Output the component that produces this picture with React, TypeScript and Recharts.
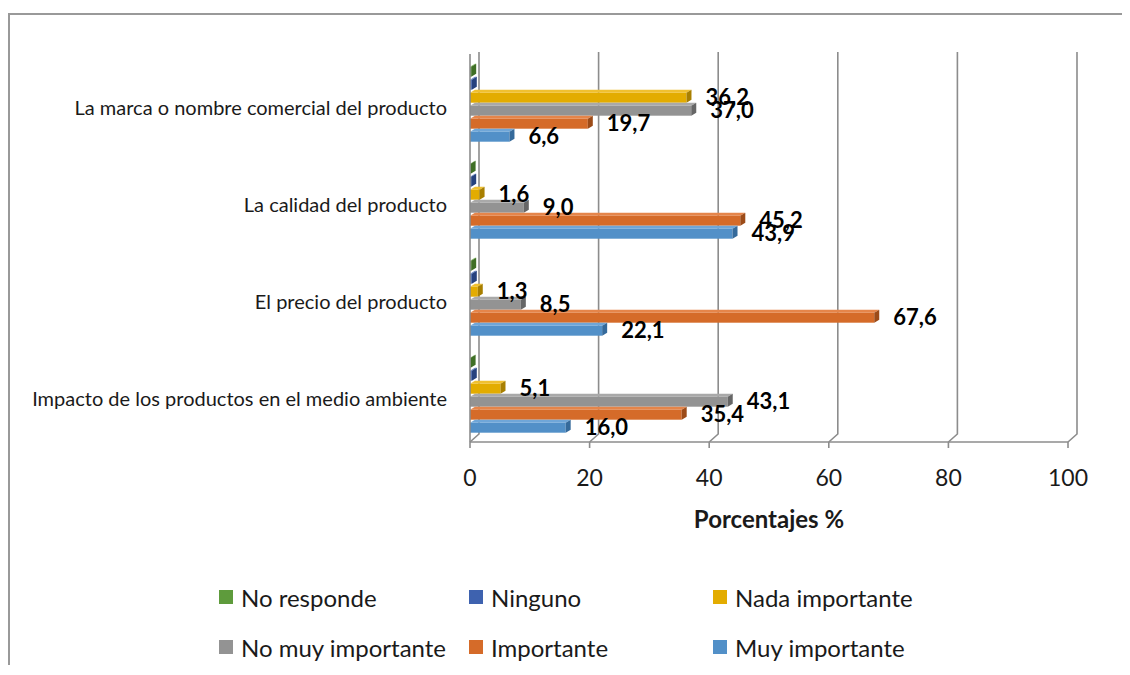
import React from 'react'
import { BarChart, Bar, XAxis, YAxis, CartesianGrid, LabelList, Label } from 'recharts'

const categories = [
  'La marca o nombre comercial del producto',
  'La calidad del producto',
  'El precio del producto',
  'Impacto de los productos en el medio ambiente',
]
const noResponde = [0.2, 0.1, 0.2, 0.1]
const ninguno = [0.3, 0.2, 0.3, 0.3]
const nadaImportante = [36.2, 1.6, 1.3, 5.1]
const noMuyImportante = [37.0, 9.0, 8.5, 43.1]
const importante = [19.7, 45.2, 67.6, 35.4]
const muyImportante = [6.6, 43.9, 22.1, 16.0]
const xTicks = [0, 20, 40, 60, 80, 100]

const FONT = 'Lato, "Open Sans", sans-serif'

const series = [
  { key: 'noResponde', name: 'No responde', values: noResponde, color: '#5E9B3C', side: '#3f6f25', top: '#77b352', labels: false },
  { key: 'ninguno', name: 'Ninguno', values: ninguno, color: '#3E62AF', side: '#26427e', top: '#5a7cc4', labels: false },
  { key: 'nada', name: 'Nada importante', values: nadaImportante, color: '#E3AC00', side: '#a87f00', top: '#f0c030', labels: true },
  { key: 'noMuy', name: 'No muy importante', values: noMuyImportante, color: '#939393', side: '#666666', top: '#a9a9a9', labels: true },
  { key: 'imp', name: 'Importante', values: importante, color: '#D56B29', side: '#9c4b18', top: '#e5854a', labels: true },
  { key: 'muy', name: 'Muy importante', values: muyImportante, color: '#5290C8', side: '#356a9b', top: '#6fa6d8', labels: true },
]

const data = categories.map((category, i) => {
  const row: Record<string, any> = { category }
  series.forEach((s) => {
    row[s.key] = s.values[i]
  })
  return row
})

const DX = 5
const DY = 3

function Bar3D(props: any) {
  const { x, y, width, height, fill, side, top } = props
  if (height == null || width == null) return null
  const w = Math.max(width, 0)
  return (
    <g>
      <rect x={x} y={y + DY} width={w} height={height - DY} fill={fill} />
      <path d={`M${x},${y + DY} L${x + DX},${y} L${x + w + DX},${y} L${x + w},${y + DY} Z`} fill={top} />
      <path
        d={`M${x + w},${y + DY} L${x + w + DX},${y} L${x + w + DX},${y + height - DY} L${x + w},${y + height} Z`}
        fill={side}
      />
    </g>
  )
}

function ValueLabel(props: any) {
  const { x, y, width, height, value } = props
  return (
    <text
      x={x + width + 19}
      y={y + height / 2 + 3}
      dominantBaseline="middle"
      fontFamily={FONT}
      fontWeight={700}
      fontSize={22}
      fill="#000"
    >
      {Number(value).toFixed(1).replace('.', ',')}
    </text>
  )
}

function GridLine(props: any) {
  const { x1, y1, y2, index } = props
  return (
    <path
      key={`g-${index}-${x1}`}
      d={`M${x1},${y2} L${x1 + 9},${y2 - 8} L${x1 + 9},${y1 - 2}`}
      stroke="#8c8c8c"
      strokeWidth={1.6}
      fill="none"
    />
  )
}

function CategoryTick(props: any) {
  const { x, y, payload } = props
  return (
    <text x={x} y={y + 7} textAnchor="end" dominantBaseline="middle" fontFamily={FONT} fontSize={20} fill="#1a1a1a">
      {payload.value}
    </text>
  )
}

function LegendBox() {
  const cols = [211, 461, 705]
  const rows = [589, 639]
  return (
    <>
      {series.map((s, i) => (
        <div
          key={s.key}
          style={{
            position: 'absolute',
            left: cols[i % 3],
            top: rows[Math.floor(i / 3)] - 15,
            height: 30,
            display: 'flex',
            alignItems: 'center',
            fontFamily: FONT,
            fontSize: 24,
            color: '#1a1a1a',
            whiteSpace: 'nowrap',
          }}
        >
          <span style={{ display: 'inline-block', width: 14, height: 14, background: s.color, marginRight: 8 }} />
          {s.name}
        </div>
      ))}
    </>
  )
}

export default function App() {
  return (
    <div style={{ position: 'relative', width: 1122, height: 660 }}>
      <div
        style={{
          position: 'absolute',
          left: 0,
          top: 5,
          width: 1200,
          height: 650,
          borderLeft: '2px solid #999',
          borderTop: '2px solid #999',
        }}
      />
      <div style={{ position: 'absolute', left: 0, top: 0 }}>
        <BarChart
          width={1122}
          height={660}
          data={data}
          layout="vertical"
          margin={{ top: 46, right: 62, bottom: 126, left: 0 }}
          barCategoryGap="10%"
          barGap={0}
        >
          <CartesianGrid horizontal={false} vertical={GridLine} />
          <XAxis
            type="number"
            domain={[0, 100]}
            ticks={xTicks}
            interval={0}
            height={100}
            axisLine={{ stroke: '#8c8c8c', strokeWidth: 1.6 }}
            tickLine={{ stroke: '#8c8c8c', strokeWidth: 1.6 }}
            tickSize={6}
            tickMargin={22}
            tick={{ fontFamily: FONT, fontSize: 23, fill: '#1a1a1a' }}
          >
            <Label
              value="Porcentajes %"
              position="insideTop"
              offset={69}
              style={{ fontFamily: FONT, fontSize: 24, fontWeight: 700, fill: '#1a1a1a' }}
            />
          </XAxis>
          <YAxis
            type="category"
            dataKey="category"
            width={462}
            axisLine={{ stroke: '#8c8c8c', strokeWidth: 1.6 }}
            tickLine={false}
            tickSize={0}
            tickMargin={23}
            interval={0}
            tick={<CategoryTick />}
          />
          {series.map((s) => (
            <Bar
              key={s.key}
              dataKey={s.key}
              name={s.name}
              fill={s.color}
              isAnimationActive={false}
              shape={(p: any) => <Bar3D {...p} side={s.side} top={s.top} />}
            >
              {s.labels && <LabelList dataKey={s.key} content={<ValueLabel />} />}
            </Bar>
          ))}
        </BarChart>
      </div>
      <LegendBox />
    </div>
  )
}
